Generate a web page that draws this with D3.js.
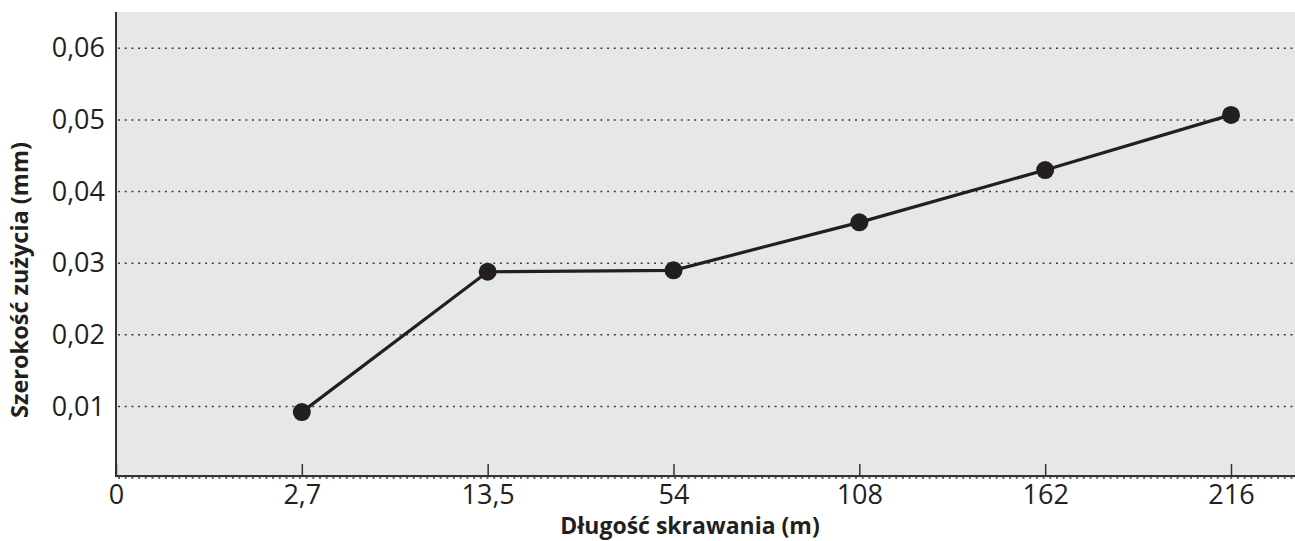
<!DOCTYPE html>
<html>
<head>
<meta charset="utf-8">
<script src="https://cdn.jsdelivr.net/npm/d3@7"></script>
<style>
  body { margin: 0; background: #fff; }
  svg { display: block; }
  svg text { font-family: "Open Sans", "Noto Sans", sans-serif; }
</style>
</head>
<body>
<script>
// categories on x axis (evenly spaced)
var xLabels = ["0", "2,7", "13,5", "54", "108", "162", "216"];
// measured points: x category and wear width (mm)
var pointCats = ["2,7", "13,5", "54", "108", "162", "216"];
var wearValues = [0.0092, 0.0288, 0.0290, 0.0357, 0.0430, 0.0507];
var yTicks = [0.01, 0.02, 0.03, 0.04, 0.05, 0.06];

var xTitle = "Długość skrawania (m)";
var yTitle = "Szerokość zużycia (mm)";

var W = 1295, H = 541;
var plotLeft = 116, plotRight = 1295, plotTop = 12;

var x = d3.scalePoint().domain(xLabels).range([116, 1231]);
var y = d3.scaleLinear().domain([0, 0.06]).range([478, 48.3]);

var fmt = function(d) { return d3.format(".2f")(d).replace(".", ","); };

var svg = d3.select("body").append("svg")
    .attr("width", W)
    .attr("height", H);

// plot background
svg.append("rect")
    .attr("x", plotLeft)
    .attr("y", plotTop)
    .attr("width", plotRight - plotLeft)
    .attr("height", y(0) - plotTop)
    .style("fill", "#e6e7e8");

// dotted grid lines (incl. zero line)
svg.selectAll(".grid")
    .data([0].concat(yTicks))
  .enter().append("line")
    .attr("class", "grid")
    .attr("x1", plotLeft + 2)
    .attr("x2", plotRight)
    .attr("y1", function(d) { return y(d); })
    .attr("y2", function(d) { return y(d); })
    .style("stroke", "#3d3d3d")
    .style("stroke-width", 1.5)
    .style("stroke-dasharray", "2,4.7");

// x axis
var xAxis = d3.axisBottom(x).tickSizeInner(-12).tickSizeOuter(0).tickPadding(9);
var gx = svg.append("g")
    .attr("transform", "translate(0," + (y(0) - 2) + ")")
    .call(xAxis)
    .attr("font-family", null);
gx.select(".domain").remove();
gx.append("line")
    .attr("x1", plotLeft).attr("x2", plotRight)
    .style("stroke", "#333").style("stroke-width", 2);
gx.selectAll(".tick line").style("stroke", "#333").style("stroke-width", 1.5);
gx.selectAll(".tick text")
    .style("font-size", "27px")
    .style("fill", "#231f20");

// y axis
var yAxis = d3.axisLeft(y).tickValues(yTicks).tickFormat(fmt).tickSize(0).tickPadding(11);
var gy = svg.append("g")
    .attr("transform", "translate(" + plotLeft + ",0)")
    .call(yAxis)
    .attr("font-family", null);
gy.select(".domain").remove();
gy.append("line")
    .attr("y1", plotTop).attr("y2", y(0) - 1)
    .style("stroke", "#333").style("stroke-width", 2);
gy.selectAll(".tick text")
    .style("font-size", "27px")
    .style("fill", "#231f20");

// data line
var points = pointCats.map(function(c, i) { return {cat: c, value: wearValues[i]}; });

var line = d3.line()
    .x(function(d) { return x(d.cat); })
    .y(function(d) { return y(d.value); });

svg.append("path")
    .datum(points)
    .attr("d", line)
    .style("fill", "none")
    .style("stroke", "#231f20")
    .style("stroke-width", 3.2);

svg.selectAll(".dot")
    .data(points)
  .enter().append("circle")
    .attr("class", "dot")
    .attr("cx", function(d) { return x(d.cat); })
    .attr("cy", function(d) { return y(d.value); })
    .attr("r", 9)
    .style("fill", "#231f20");

// axis titles
svg.append("text")
    .attr("x", 690)
    .attr("y", 534)
    .attr("text-anchor", "middle")
    .style("font-size", "23px")
    .style("font-weight", "bold")
    .style("fill", "#231f20")
    .text(xTitle);

svg.append("text")
    .attr("transform", "translate(28,280) rotate(-90)")
    .attr("text-anchor", "middle")
    .style("font-size", "23.5px")
    .style("font-weight", "bold")
    .style("fill", "#231f20")
    .text(yTitle);
</script>
</body>
</html>
